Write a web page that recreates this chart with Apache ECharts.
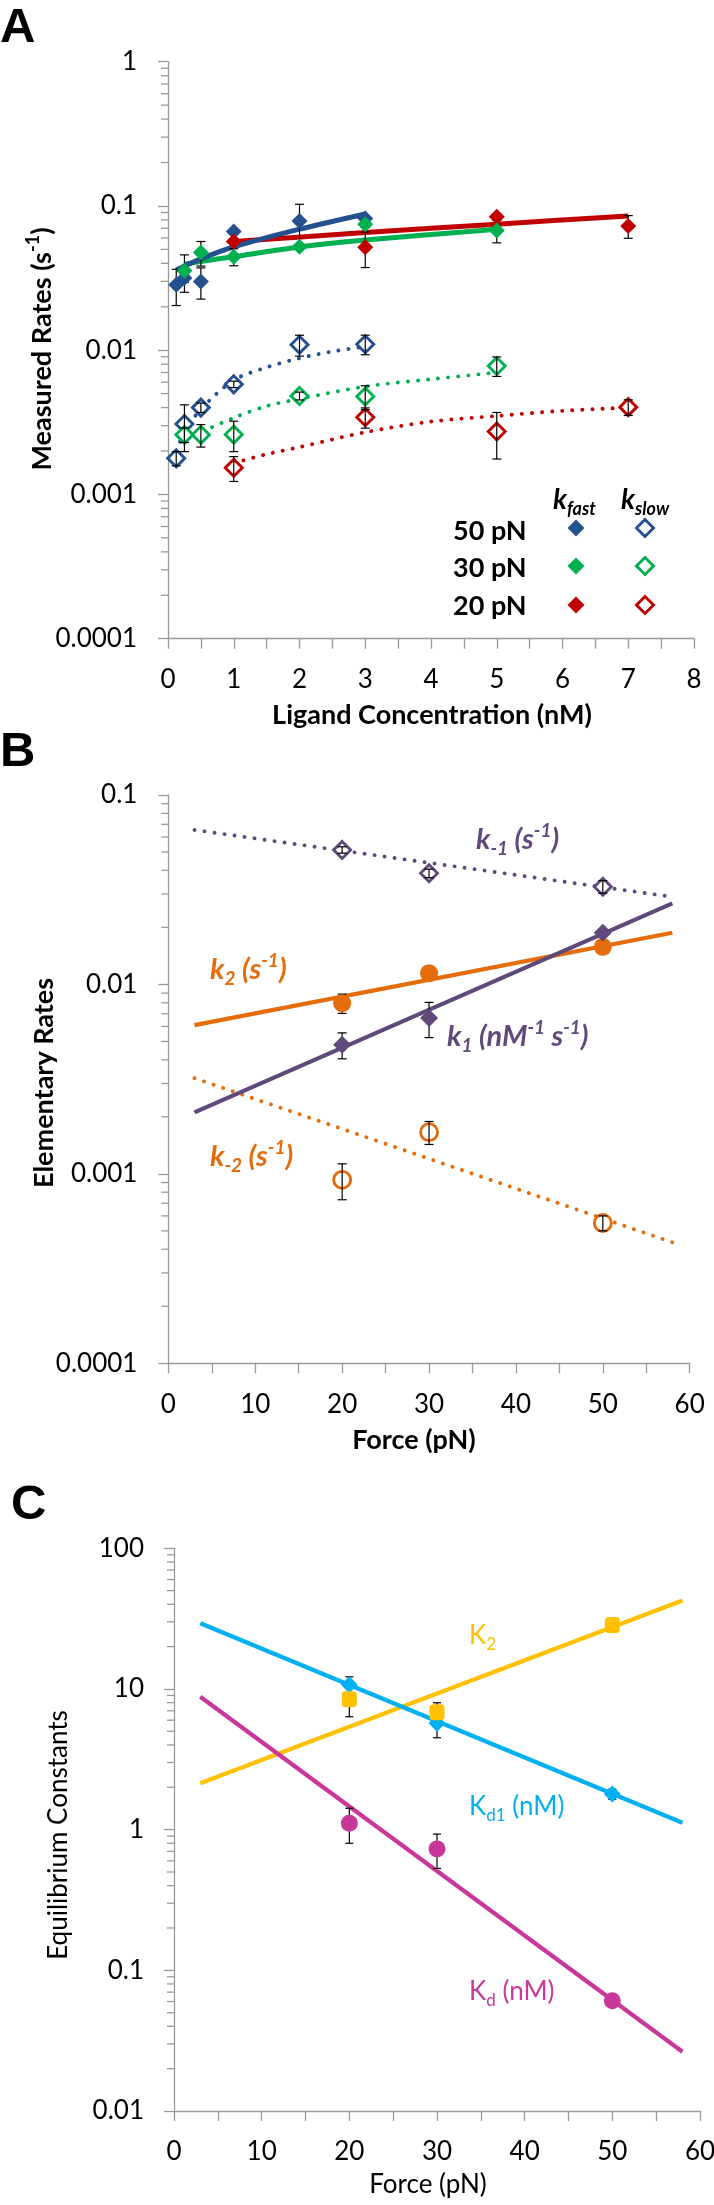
<!DOCTYPE html>
<html><head><meta charset="utf-8">
<script src="https://cdn.jsdelivr.net/npm/echarts/dist/echarts.min.js"></script>
<style>html,body{margin:0;padding:0;background:#fff}#c{width:714px;height:2205px}</style>
</head><body><div id="c"></div><script>
// ---------------- DATA ----------------
// Panel A: measured rates vs ligand concentration (nM)
const fast50X = [0.125, 0.25, 0.5, 1, 2, 3];
const fast50Y = [0.0284, 0.0316, 0.0299, 0.0664, 0.0787, 0.082];
const fast50E = [0.008, 0.002, 0.0073, 0.002, 0.024, 0.002];
const fast30X = [0.25, 0.5, 1, 2, 3, 5];
const fast30Y = [0.0355, 0.0475, 0.0445, 0.0522, 0.0747, 0.0675];
const fast30E = [0.0103, 0.0092, 0.006, 0.002, 0.004, 0.012];
const fast20X = [1, 3, 5, 7];
const fast20Y = [0.0566, 0.0517, 0.0843, 0.0727];
const fast20E = [0.002, 0.0143, 0.004, 0.013];
const slow50X = [0.125, 0.25, 0.5, 1, 2, 3];
const slow50Y = [0.00178, 0.00308, 0.0040, 0.0058, 0.0109, 0.0110];
const slow50E = [0.0002, 0.0011, 0.0003, 0.0003, 0.0018, 0.0017];
const slow30X = [0.25, 0.5, 1, 2, 3, 5];
const slow30Y = [0.00259, 0.00259, 0.0026, 0.00482, 0.00477, 0.00778];
const slow30E = [0.0003, 0.00046, 0.00062, 0.0003, 0.0009, 0.0012];
const slow20X = [1, 3, 5, 7];
const slow20Y = [0.00153, 0.00343, 0.00273, 0.00403];
const slow20E = [0.0003, 0.00055, 0.00097, 0.0005];
// fitted curves
const fit50FastX = [0.125, 0.5, 1, 2, 3];
const fit50FastY = [0.036, 0.043, 0.052, 0.069, 0.088];
const fit30FastX = [0.25, 0.5, 1, 2, 3, 5];
const fit30FastY = [0.0395, 0.0412, 0.0445, 0.052, 0.058, 0.069];
const fit20FastX = [1, 3, 5, 7];
const fit20FastY = [0.0567, 0.0654, 0.0748, 0.0851];
const fit50SlowX = [0.125, 0.25, 0.5, 1, 1.5, 2, 2.5, 3];
const fit50SlowY = [0.0020, 0.0027, 0.0039, 0.0062, 0.0076, 0.0088, 0.0098, 0.0106];
const fit30SlowX = [0.25, 0.5, 1, 1.5, 2, 3, 4, 5];
const fit30SlowY = [0.0024, 0.0027, 0.0034, 0.0041, 0.0046, 0.0056, 0.0063, 0.0070];
const fit20SlowX = [1, 1.5, 2, 3, 4, 5, 6, 7];
const fit20SlowY = [0.00165, 0.0019, 0.00213, 0.0027, 0.0032, 0.0035, 0.0038, 0.0040];

// Panel B: elementary rates vs force (pN)
const forceB = [20, 30, 50];
const k1Y = [0.0048, 0.00664, 0.01875];
const k1E = [0.00075, 0.0014, 0.0005];
const km1Y = [0.0513, 0.0386, 0.0328];
const km1E = [0.002, 0.002, 0.0025];
const k2Y = [0.00796, 0.01146, 0.0158];
const k2E = [0.00093, 0.0005, 0.0005];
const km2Y = [0.00093, 0.00166, 0.00055];
const km2E = [0.0002, 0.00023, 0.00005];
const fitXB = [3, 58];
const k1Fit = [0.00211, 0.0268];
const km1Fit = [0.0654, 0.029];
const k2Fit = [0.0061, 0.01875];
const km2Fit = [0.0032, 0.000435];

// Panel C: equilibrium constants vs force (pN)
const forceC = [20, 30, 50];
const kd1Y = [10.7, 5.7, 1.79];
const kd1E = [1.5, 1.2, 0.15];
const K2Y = [8.45, 6.83, 28.5];
const K2E = [2.1, 1.15, 1.0];
const kdY = [1.11, 0.73, 0.0607];
const kdE = [0.31, 0.2, 0.006];
const fitXC = [3, 58];
const kd1Fit = [29.3, 1.12];
const K2Fit = [2.14, 42.5];
const kdFit = [8.8, 0.0264];

// axis ticks
const xTicksA = [0, 8, 1];
const xTicksBC = [0, 60, 10];
const minorMult = [2, 3, 4, 5, 6, 7, 8, 9];
const decadesA = [1e-4, 1e-3, 1e-2, 1e-1];
const decadesB = [1e-4, 1e-3, 1e-2];
const decadesC = [1e-2, 1e-1, 1, 10];

// ---------------- STYLE ----------------
const COL = {blue:'#24508e', green:'#00b050', red:'#c00000', purple:'#604a7b',
  orange:'#e46c0a', cyan:'#00b0f0', yellow:'#ffc000', magenta:'#c8379a'};
const AX = '#9a9a9a';
const FONT = 'Lato';

const chart = echarts.init(document.getElementById('c'), null, {renderer:'canvas', width:714, height:2205});

const zip = (xs, ys) => xs.map((x, i) => [x, ys[i]]);

function fitLine(ai, xs, ys, color, dotted, smooth, width) {
  return {type:'line', xAxisIndex:ai, yAxisIndex:ai, data:zip(xs, ys), symbol:'none', showSymbol:false,
    smooth: smooth || false, silent:true, z:2, animation:false,
    lineStyle: dotted ? {color, width:3.9, type:[0.1, 10], cap:'round'} : {color, width:width || 4.2, cap:'butt'}};
}
function marks(ai, xs, ys, symbol, size, color, open) {
  return {type:'scatter', xAxisIndex:ai, yAxisIndex:ai, data:zip(xs, ys), symbol, symbolSize:size,
    z:3, silent:true, animation:false,
    itemStyle: open ? {color:'#fff', borderColor:color, borderWidth:2.9, opacity:1} : {color, opacity:1}};
}
// error bars: above open markers (visible inside), below filled markers
function errBars(ai, xs, ys, es, above, capW) {
  const w = capW || 4.5;
  return {type:'custom', xAxisIndex:ai, yAxisIndex:ai, z: above ? 4 : 2.5, silent:true, animation:false, clip:false,
    encode:{x:0, y:1},
    data: xs.map((x, i) => [x, ys[i], es[i]]),
    renderItem(params, api) {
      const x = api.value(0), y = api.value(1), e = api.value(2);
      const t = api.coord([x, y + e]), b = api.coord([x, y - e]);
      const st = {stroke:'#000', lineWidth:1.2};
      return {type:'group', children:[
        {type:'line', shape:{x1:t[0], y1:t[1], x2:b[0], y2:b[1]}, style:st},
        {type:'line', shape:{x1:t[0]-w, y1:t[1], x2:t[0]+w, y2:t[1]}, style:st},
        {type:'line', shape:{x1:b[0]-w, y1:b[1], x2:b[0]+w, y2:b[1]}, style:st}
      ]};
    }};
}
function minorTicks(ai, x0, decades) {
  const d = [];
  decades.forEach(dec => minorMult.forEach(m => d.push([x0, dec * m])));
  return {type:'custom', xAxisIndex:ai, yAxisIndex:ai, z:1, silent:true, animation:false, clip:false,
    encode:{x:0, y:1}, data:d,
    renderItem(params, api) {
      const p = api.coord([api.value(0), api.value(1)]);
      return {type:'line', shape:{x1:p[0]-7, y1:p[1], x2:p[0], y2:p[1]}, style:{stroke:AX, lineWidth:1.3}};
    }};
}
function logFmt(v) {
  const p = Math.round(Math.log10(v));
  return p >= 0 ? String(Math.round(Math.pow(10, p))) : '0.' + '0'.repeat(-p - 1) + '1';
}
function xAxis(gi, t, margin) {
  return {type:'value', gridIndex:gi, min:t[0], max:t[1], interval:t[2],
    axisLine:{show:true, onZero:false, lineStyle:{color:AX, width:1.3}},
    axisTick:{show:true, length:10, lineStyle:{color:AX, width:1.3}},
    minorTick:{show:true, splitNumber:2, length:10, lineStyle:{color:AX, width:1.3}},
    splitLine:{show:false}, minorSplitLine:{show:false},
    axisLabel:{show:true, color:'#000', fontFamily:FONT, fontSize:26, margin:margin}};
}
function yAxis(gi, min, max, margin) {
  return {type:'log', logBase:10, gridIndex:gi, min, max,
    axisLine:{show:true, onZero:false, lineStyle:{color:AX, width:1.3}},
    axisTick:{show:true, length:10, lineStyle:{color:AX, width:1.3}},
    splitLine:{show:false}, minorTick:{show:false},
    axisLabel:{show:true, color:'#000', fontFamily:FONT, fontSize:26, margin:margin, formatter:logFmt}};
}

// ---------------- TEXT ----------------
function fontStr(style, weight, size) { return style + ' ' + weight + ' ' + size + 'px ' + FONT; }
function richSet(size, weight, style, color) {
  const sub = Math.round(size * 0.66);
  return {
    m:{font:fontStr(style, weight, size), fontSize:size, fontWeight:weight, fontStyle:style, fontFamily:FONT, fill:color, lineHeight:size + 8, verticalAlign:'middle'},
    n:{font:fontStr('normal', weight, size), fontSize:size, fontWeight:weight, fontStyle:'normal', fontFamily:FONT, fill:color, lineHeight:size + 8, verticalAlign:'middle'},
    sb:{font:fontStr(style, weight, sub), fontSize:sub, fontWeight:weight, fontStyle:style, fontFamily:FONT, fill:color, lineHeight:sub + 2, verticalAlign:'bottom'},
    sp:{font:fontStr(style, weight, sub), fontSize:sub, fontWeight:weight, fontStyle:style, fontFamily:FONT, fill:color, lineHeight:sub + 4, verticalAlign:'top'}
  };
}
function txt(x, y, text, opt) {
  const o = Object.assign({size:26, weight:'normal', style:'normal', color:'#000', align:'left', rot:0, family:FONT}, opt || {});
  return {type:'text', x, y, rotation:o.rot, silent:true, z:10,
    style:{text, fill:o.color, font:o.style + ' ' + o.weight + ' ' + o.size + 'px ' + o.family,
      fontSize:o.size, fontWeight:o.weight, fontStyle:o.style, fontFamily:o.family,
      align:o.align, textAlign:o.align, verticalAlign:'middle', textVerticalAlign:'middle',
      rich: richSet(o.size, o.weight, o.style, o.color)}};
}
function diamond(cx, cy, color, open) {
  const r = 8.5;
  return {type:'polygon', silent:true, z:10,
    shape:{points:[[cx, cy - r], [cx + r, cy], [cx, cy + r], [cx - r, cy]]},
    style: open ? {fill:'#fff', stroke:color, lineWidth:2.9} : {fill:color}};
}

const LB = {size:29, weight:'bold', style:'italic'};
const graphic = [
  txt(0, 28, 'A', {size:49, weight:'bold', family:'Liberation Sans'}),
  txt(0, 752, 'B', {size:49, weight:'bold', family:'Liberation Sans'}),
  txt(11, 1505, 'C', {size:49, weight:'bold', family:'Liberation Sans'}),
  // axis titles
  txt(42, 349, '{m|Measured Rates (s}{sp|-1}{m|)}', {size:27, weight:'bold', align:'center', rot:Math.PI/2}),
  txt(432, 715, 'Ligand Concentration (nM)', {size:27, weight:'bold', align:'center'}),
  txt(44, 1083, 'Elementary Rates', {size:27, weight:'bold', align:'center', rot:Math.PI/2}),
  txt(414, 1440, 'Force (pN)', {size:27, weight:'bold', align:'center'}),
  txt(59, 1835, 'Equilibrium Constants', {size:26, align:'center', rot:Math.PI/2}),
  txt(428, 2185, 'Force (pN)', {size:26, align:'center'}),
  // legend panel A
  txt(553, 500, '{m|k}{sb|fast}', {size:28, weight:'bold', style:'italic'}),
  txt(621, 500, '{m|k}{sb|slow}', {size:28, weight:'bold', style:'italic'}),
  txt(453, 531, '50 pN', {size:27, weight:'bold'}),
  txt(453, 568, '30 pN', {size:27, weight:'bold'}),
  txt(453, 606, '20 pN', {size:27, weight:'bold'}),
  diamond(576, 528, COL.blue, false), diamond(645, 528, COL.blue, true),
  diamond(576, 566, COL.green, false), diamond(645, 566, COL.green, true),
  diamond(576, 605, COL.red, false), diamond(645, 605, COL.red, true),
  // panel B labels
  txt(476, 840, '{m|k}{sb|-1}{m| (s}{sp|-1}{m|)}', Object.assign({color:COL.purple}, LB)),
  txt(210, 970, '{m|k}{sb|2}{m| (s}{sp|-1}{m|)}', Object.assign({color:COL.orange}, LB)),
  txt(447, 1037, '{m|k}{sb|1}{m| (nM}{sp|-1}{m| s}{sp|-1}{m|)}', Object.assign({color:COL.purple}, LB)),
  txt(210, 1157, '{m|k}{sb|-2}{m| (s}{sp|-1}{m|)}', Object.assign({color:COL.orange}, LB)),
  // panel C labels
  txt(469, 1636, '{m|K}{sb|2}', {size:26, color:COL.yellow}),
  txt(469, 1807, '{m|K}{sb|d1}{m| (nM)}', {size:26, color:COL.cyan}),
  txt(469, 1992, '{m|K}{sb|d}{m| (nM)}', {size:26, color:COL.magenta})
];

const option = {
  animation:false,
  backgroundColor:'#fff',
  grid:[
    {left:168, top:61.7, width:526, height:577, outerBoundsMode:'none', containLabel:false},
    {left:168.4, top:795, width:521.3, height:568.3, outerBoundsMode:'none', containLabel:false},
    {left:174, top:1548.3, width:526, height:562.7, outerBoundsMode:'none', containLabel:false}
  ],
  xAxis:[xAxis(0, xTicksA, 28), xAxis(1, xTicksBC, 28), xAxis(2, xTicksBC, 28)],
  yAxis:[yAxis(0, 1e-4, 1, 31), yAxis(1, 1e-4, 0.1, 31), yAxis(2, 0.01, 100, 30)],
  series:[
    minorTicks(0, 0, decadesA), minorTicks(1, 0, decadesB), minorTicks(2, 0, decadesC),
    // Panel A fits
    fitLine(0, fit20FastX, fit20FastY, COL.red, false, 0.3, 5),
    fitLine(0, fit30FastX, fit30FastY, COL.green, false, 0.3, 5),
    fitLine(0, fit50FastX, fit50FastY, COL.blue, false, 0.3, 5),
    fitLine(0, fit50SlowX, fit50SlowY, COL.blue, true, 0.3),
    fitLine(0, fit30SlowX, fit30SlowY, COL.green, true, 0.3),
    fitLine(0, fit20SlowX, fit20SlowY, COL.red, true, 0.3),
    // Panel A markers
    marks(0, fast50X, fast50Y, 'diamond', 16, COL.blue, false),
    marks(0, fast20X, fast20Y, 'diamond', 16, COL.red, false),
    marks(0, fast30X, fast30Y, 'diamond', 16, COL.green, false),
    marks(0, slow50X, slow50Y, 'diamond', 17, COL.blue, true),
    marks(0, slow30X, slow30Y, 'diamond', 17, COL.green, true),
    marks(0, slow20X, slow20Y, 'diamond', 17, COL.red, true),
    errBars(0, fast50X, fast50Y, fast50E, false), errBars(0, fast30X, fast30Y, fast30E, false), errBars(0, fast20X, fast20Y, fast20E, false),
    errBars(0, slow50X, slow50Y, slow50E, true), errBars(0, slow30X, slow30Y, slow30E, true), errBars(0, slow20X, slow20Y, slow20E, true),
    // Panel B
    fitLine(1, fitXB, km1Fit, COL.purple, true),
    fitLine(1, fitXB, km2Fit, COL.orange, true),
    fitLine(1, fitXB, k2Fit, COL.orange, false),
    fitLine(1, fitXB, k1Fit, COL.purple, false),
    marks(1, forceB, km1Y, 'diamond', 17, COL.purple, true),
    marks(1, forceB, km2Y, 'circle', 17, COL.orange, true),
    marks(1, forceB, k2Y, 'circle', 18, COL.orange, false),
    marks(1, forceB, k1Y, 'diamond', 18, COL.purple, false),
    errBars(1, forceB, km1Y, km1E, true), errBars(1, forceB, km2Y, km2E, true),
    errBars(1, forceB, k2Y, k2E, false), errBars(1, forceB, k1Y, k1E, false),
    // Panel C
    fitLine(2, fitXC, K2Fit, COL.yellow, false),
    fitLine(2, fitXC, kd1Fit, COL.cyan, false),
    fitLine(2, fitXC, kdFit, COL.magenta, false),
    errBars(2, forceC, kd1Y, kd1E, false, 4), errBars(2, forceC, K2Y, K2E, false, 4), errBars(2, forceC, kdY, kdE, false, 4),
    marks(2, forceC, kd1Y, 'diamond', 17, COL.cyan, false),
    marks(2, forceC, K2Y, 'roundRect', [15, 16], COL.yellow, false),
    marks(2, forceC, kdY, 'circle', 17, COL.magenta, false)
  ],
  graphic: graphic
};
chart.setOption(option);
</script></body></html>
